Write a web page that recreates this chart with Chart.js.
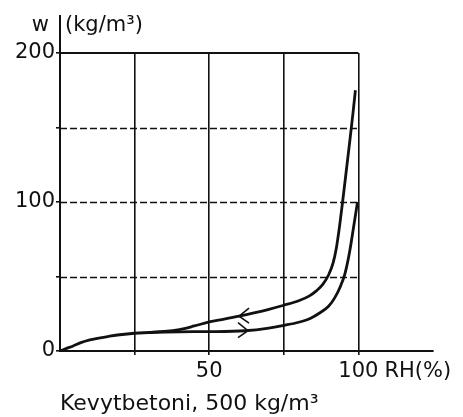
<!DOCTYPE html>
<html><head><meta charset="utf-8">
<script src="https://cdn.jsdelivr.net/npm/chart.js@4/dist/chart.umd.min.js"></script>
<style>html,body{margin:0;padding:0;background:#fff;}#wrap{width:463px;height:417px;}</style>
</head><body><div id="wrap"><canvas id="c" width="463" height="417"></canvas></div>
<script>
// Adsorption (lower) curve: RH (%) and moisture content w (kg/m3)
const adsorptionRH = [0, 2, 4.4, 7, 10, 13, 16, 20, 25, 32, 40, 50, 62, 70, 75, 80, 84, 87, 90, 92, 94, 95.5, 97, 98.3, 99.7];
const adsorptionW  = [0, 1.6, 3.4, 5.6, 7.4, 8.7, 9.7, 10.9, 11.9, 12.6, 12.9, 13, 13.6, 15.4, 17.2, 19.3, 22, 25.5, 30, 35.5, 43.5, 52, 66, 82, 100];
// Desorption (upper) curve
const desorptionRH = [30, 35, 40, 45, 50, 55, 60, 65, 70, 75, 80, 83.6, 86, 88, 90, 91.5, 92.6, 93.7, 94.7, 96, 97.3, 98.2, 99];
const desorptionW  = [12.5, 13.1, 14.4, 16.8, 19.5, 21.4, 23.4, 25.6, 28, 30.7, 33.7, 37, 40.5, 44.5, 51, 59, 69, 84, 100, 122, 144, 160, 175];
// Arrows showing direction on each branch
const arrowRH  = [60, 63];
const arrowW   = [23.4, 13.7];
const arrowDir = [-1, 1];
// Axis tick labels
const xTickLabels = {50: '50', 100: '100'};
const yTickLabels = {0: '0', 100: '100', 200: '200'};
const dashedGridW = [50, 100, 150];
const xUnitLabel = 'RH(%)';
const yAxisSymbol = 'w';
const yAxisUnit = '(kg/m³)';
const chartTitle = 'Kevytbetoni, 500 kg/m³';

const INK = '#111111';
const FONT = '"DejaVu Sans", sans-serif';

const toPts = (xs, ys) => xs.map((x, i) => ({x: x, y: ys[i]}));

const extras = {
  id: 'extras',
  beforeDatasetsDraw(chart) {
    const c = chart.ctx, xs = chart.scales.x, ys = chart.scales.y;
    const x0 = xs.getPixelForValue(0), x100 = xs.getPixelForValue(100);
    c.save();
    c.strokeStyle = INK;
    // dashed horizontal grid lines
    c.lineWidth = 1.6;
    c.setLineDash([7, 3]);
    dashedGridW.forEach(v => {
      const y = Math.round(ys.getPixelForValue(v)) + 0.5;
      c.beginPath(); c.moveTo(x0, y); c.lineTo(x100, y); c.stroke();
    });
    // top border at max
    c.setLineDash([]);
    c.lineWidth = 2;
    const yt = ys.getPixelForValue(200);
    c.beginPath(); c.moveTo(x0, yt); c.lineTo(x100, yt); c.stroke();
    c.restore();
  },
  afterDraw(chart) {
    const c = chart.ctx, xs = chart.scales.x, ys = chart.scales.y;
    const x0 = xs.getPixelForValue(0);
    c.save();
    c.strokeStyle = INK; c.fillStyle = INK;
    // y axis extension above the plot
    c.lineWidth = 2;
    c.beginPath(); c.moveTo(x0, ys.top); c.lineTo(x0, ys.top - 38); c.stroke();
    // y axis label
    c.font = '21px ' + FONT;
    c.textBaseline = 'alphabetic';
    c.textAlign = 'right';
    c.fillText(yAxisSymbol, x0 - 11, ys.top - 22);
    c.textAlign = 'left';
    c.fillText(yAxisUnit, x0 + 5, ys.top - 22);
    // x unit after the 100 tick label
    const x100 = xs.getPixelForValue(100);
    const w100 = c.measureText(xTickLabels[100]).width;
    c.textBaseline = 'top';
    c.fillText(xUnitLabel, x100 + w100 / 2 + 6, xs.top + 10);
    // title below
    c.font = '22px ' + FONT;
    c.textBaseline = 'alphabetic';
    c.textAlign = 'left';
    c.fillText(chartTitle, x0, 410);
    // arrows
    c.lineWidth = 1.6;
    arrowRH.forEach((rh, i) => {
      const px = xs.getPixelForValue(rh), py = ys.getPixelForValue(arrowW[i]);
      const d = arrowDir[i];
      c.beginPath();
      c.moveTo(px - d * 10, py - 8);
      c.lineTo(px, py);
      c.lineTo(px - d * 10, py + 7);
      c.stroke();
    });
    c.restore();
  }
};

const lineStyle = {
  showLine: true, borderColor: INK, borderWidth: 2.8, pointRadius: 0,
  cubicInterpolationMode: 'monotone', fill: false
};

new Chart(document.getElementById('c'), {
  type: 'scatter',
  data: {
    datasets: [
      Object.assign({data: toPts(adsorptionRH, adsorptionW)}, lineStyle),
      Object.assign({data: toPts(desorptionRH, desorptionW)}, lineStyle)
    ]
  },
  options: {
    responsive: false,
    animation: false,
    layout: {padding: {top: 53, right: 30, left: 0, bottom: 0}},
    plugins: {legend: {display: false}, tooltip: {enabled: false}, title: {display: false}},
    scales: {
      x: {
        type: 'linear', min: 0, max: 125,
        afterFit(s) { s.height = 66; },
        ticks: {
          stepSize: 25, autoSkip: false, maxRotation: 0, color: INK, padding: 4,
          font: {family: FONT, size: 21},
          callback: v => xTickLabels[v] || ''
        },
        grid: {
          color: ctx => (ctx.tick && ctx.tick.value > 0 && ctx.tick.value <= 100) ? INK : 'rgba(0,0,0,0)',
          lineWidth: 1.6, drawTicks: true, tickLength: 4
        },
        border: {color: INK, width: 2}
      },
      y: {
        type: 'linear', min: 0, max: 200,
        afterFit(s) { s.width = 60; },
        ticks: {
          stepSize: 50, autoSkip: false, color: INK, padding: 1,
          font: {family: FONT, size: 21},
          callback: v => yTickLabels[v] || ''
        },
        grid: {drawOnChartArea: false, drawTicks: true, tickLength: 4, color: INK, lineWidth: 1.6},
        border: {color: INK, width: 2}
      }
    }
  },
  plugins: [extras]
});
</script>
</body></html>
